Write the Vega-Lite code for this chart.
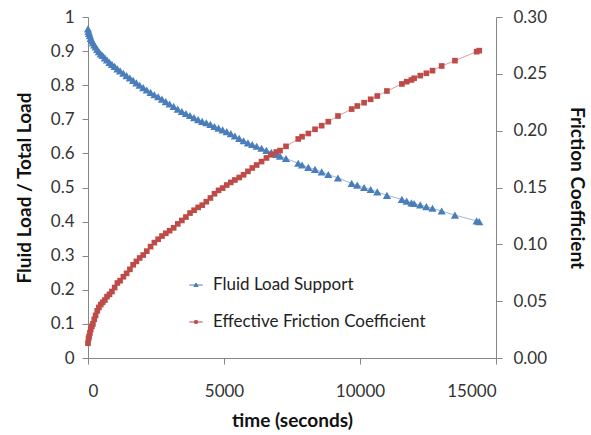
{
  "$schema": "https://vega.github.io/schema/vega-lite/v6.json",
  "width": 408,
  "height": 341,
  "autosize": {"type": "none"},
  "padding": {"left": 88, "top": 17, "right": 95, "bottom": 77},
  "background": "white",
  "config": {
    "view": {"stroke": null},
    "font": "Lato",
    "axis": {"grid": false, "domainColor": "#868686", "tickColor": "#868686", "labelColor": "#333333", "labelFont": "Lato", "titleFont": "Lato", "labelFontSize": 17, "titleFontSize": 19, "titleFontWeight": "bold", "titleColor": "#111111", "tickSize": 6},
    "legend": {"padding": 0, "labelFont": "Lato", "labelFontSize": 17, "labelColor": "#222222", "labelLimit": 0, "labelOffset": 3, "symbolSize": 729, "symbolStrokeWidth": 1, "symbolOpacity": 1}
  },
  "data": {"values": [
    {"t":0,"fls":0.965,"efc":0.013},{"t":20,"fls":0.958,"efc":0.017},{"t":40,"fls":0.952,"efc":0.019},{"t":70,"fls":0.945,"efc":0.022},
    {"t":100,"fls":0.937,"efc":0.025},{"t":140,"fls":0.931,"efc":0.0278},{"t":180,"fls":0.925,"efc":0.030},{"t":230,"fls":0.918,"efc":0.034},
    {"t":280,"fls":0.912,"efc":0.0375},{"t":340,"fls":0.905,"efc":0.0415},{"t":400,"fls":0.898,"efc":0.0445},{"t":470,"fls":0.892,"efc":0.047},
    {"t":540,"fls":0.887,"efc":0.049},{"t":620,"fls":0.880,"efc":0.051},{"t":700,"fls":0.874,"efc":0.054},{"t":790,"fls":0.867,"efc":0.056},
    {"t":880,"fls":0.861,"efc":0.0585},{"t":980,"fls":0.855,"efc":0.062},{"t":1080,"fls":0.848,"efc":0.066},{"t":1180,"fls":0.842,"efc":0.068},
    {"t":1300,"fls":0.835,"efc":0.0715},{"t":1420,"fls":0.828,"efc":0.0745},{"t":1540,"fls":0.821,"efc":0.078},{"t":1660,"fls":0.814,"efc":0.082},
    {"t":1780,"fls":0.807,"efc":0.085},{"t":1900,"fls":0.800,"efc":0.088},{"t":2030,"fls":0.793,"efc":0.0906},{"t":2160,"fls":0.786,"efc":0.094},
    {"t":2300,"fls":0.779,"efc":0.098},{"t":2440,"fls":0.772,"efc":0.1015},{"t":2580,"fls":0.766,"efc":0.1045},{"t":2720,"fls":0.759,"efc":0.1073},
    {"t":2860,"fls":0.752,"efc":0.1097},{"t":3000,"fls":0.745,"efc":0.112},{"t":3150,"fls":0.738,"efc":0.1145},{"t":3300,"fls":0.730,"efc":0.118},
    {"t":3450,"fls":0.723,"efc":0.121},{"t":3600,"fls":0.717,"efc":0.124},{"t":3750,"fls":0.711,"efc":0.1275},{"t":3900,"fls":0.705,"efc":0.130},
    {"t":4050,"fls":0.699,"efc":0.1325},{"t":4200,"fls":0.694,"efc":0.1345},{"t":4350,"fls":0.690,"efc":0.1375},{"t":4500,"fls":0.685,"efc":0.1408},
    {"t":4650,"fls":0.679,"efc":0.1445},{"t":4800,"fls":0.674,"efc":0.1475},{"t":4950,"fls":0.669,"efc":0.1495},{"t":5100,"fls":0.664,"efc":0.1522},
    {"t":5250,"fls":0.658,"efc":0.1545},{"t":5400,"fls":0.651,"efc":0.1566},{"t":5560,"fls":0.644,"efc":0.1588},{"t":5720,"fls":0.637,"efc":0.1612},
    {"t":5880,"fls":0.631,"efc":0.1642},{"t":6040,"fls":0.626,"efc":0.1672},{"t":6200,"fls":0.621,"efc":0.1698},{"t":6380,"fls":0.615,"efc":0.1728},
    {"t":6560,"fls":0.609,"efc":0.1760},{"t":6740,"fls":0.603,"efc":0.1788},{"t":6920,"fls":0.597,"efc":0.1812},{"t":7060,"fls":0.592,"efc":0.1825},
    {"t":7280,"fls":0.585,"efc":0.1862},{"t":7730,"fls":0.571,"efc":0.1927},{"t":7870,"fls":0.566,"efc":0.1947},{"t":8100,"fls":0.559,"efc":0.1975},
    {"t":8346,"fls":0.553,"efc":0.2012},{"t":8591,"fls":0.546,"efc":0.2044},{"t":8834,"fls":0.538,"efc":0.2079},{"t":9190,"fls":0.528,"efc":0.2129},
    {"t":9694,"fls":0.512,"efc":0.2190},{"t":9900,"fls":0.507,"efc":0.2217},{"t":10150,"fls":0.500,"efc":0.2246},{"t":10393,"fls":0.494,"efc":0.2276},
    {"t":10635,"fls":0.487,"efc":0.2305},{"t":10990,"fls":0.477,"efc":0.2349},{"t":11540,"fls":0.465,"efc":0.2411},{"t":11716,"fls":0.460,"efc":0.2431},
    {"t":11890,"fls":0.455,"efc":0.2446},{"t":11990,"fls":0.453,"efc":0.2461},{"t":12215,"fls":0.449,"efc":0.2484},{"t":12440,"fls":0.444,"efc":0.2505},
    {"t":12665,"fls":0.439,"efc":0.2528},{"t":13002,"fls":0.431,"efc":0.2569},{"t":13491,"fls":0.419,"efc":0.2616},{"t":14289,"fls":0.402,"efc":0.2695},
    {"t":14384,"fls":0.400,"efc":0.2704}
  ]},
  "encoding": {
    "x": {"field": "t", "type": "quantitative", "scale": {"domain": [0, 15000], "nice": false, "zero": false}, "axis": {"values": [0, 5000, 10000, 15000], "format": "d", "title": "time (seconds)", "labelPadding": 19, "titlePadding": 12}}
  },
  "layer": [
    {
      "encoding": {
        "y": {"field": "fls", "type": "quantitative", "scale": {"domain": [0, 1], "nice": false}, "axis": {"orient": "left", "values": [0,0.1,0.2,0.3,0.4,0.5,0.6,0.7,0.8,0.9,1], "format": "~g", "title": "Fluid Load / Total Load", "labelPadding": 8, "titlePadding": 16}},
        "color": {"datum": "Fluid Load Support", "type": "nominal", "scale": {"domain": ["Fluid Load Support"], "range": ["#4A7EBB"]},
          "legend": {"title": null, "orient": "none", "legendX": 94, "legendY": 254, "symbolType": "M-0.5,0H0.5M-0.15,0.11L0,-0.15L0.15,0.11Z", "symbolFillColor": "#4A7EBB", "symbolStrokeColor": "#8FB0DA"}
        }
      },
      "layer": [
        {"mark": {"type": "line", "strokeWidth": 1, "opacity": 0.55}},
        {"mark": {"type": "point", "shape": "triangle-up", "filled": true, "size": 68, "opacity": 1}}
      ]
    },
    {
      "encoding": {
        "y": {"field": "efc", "type": "quantitative", "scale": {"domain": [0, 0.3], "nice": false}, "axis": {"orient": "right", "values": [0,0.05,0.1,0.15,0.2,0.25,0.3], "format": ".2f", "title": "Friction Coefficient", "labelPadding": 11, "titlePadding": 20}},
        "color": {"datum": "Effective Friction Coefficient", "type": "nominal", "scale": {"domain": ["Effective Friction Coefficient"], "range": ["#BE4B48"]},
          "legend": {"title": null, "orient": "none", "legendX": 94, "legendY": 291, "symbolType": "M-0.5,0H0.5M-0.1,-0.1H0.1V0.1H-0.1Z", "symbolFillColor": "#BE4B48", "symbolStrokeColor": "#DE9694"}
        }
      },
      "layer": [
        {"mark": {"type": "line", "strokeWidth": 1, "opacity": 0.55}},
        {"mark": {"type": "point", "shape": "square", "filled": true, "size": 32, "opacity": 1}}
      ]
    }
  ],
  "resolve": {"scale": {"y": "independent", "color": "independent"}, "legend": {"color": "independent"}}
}
